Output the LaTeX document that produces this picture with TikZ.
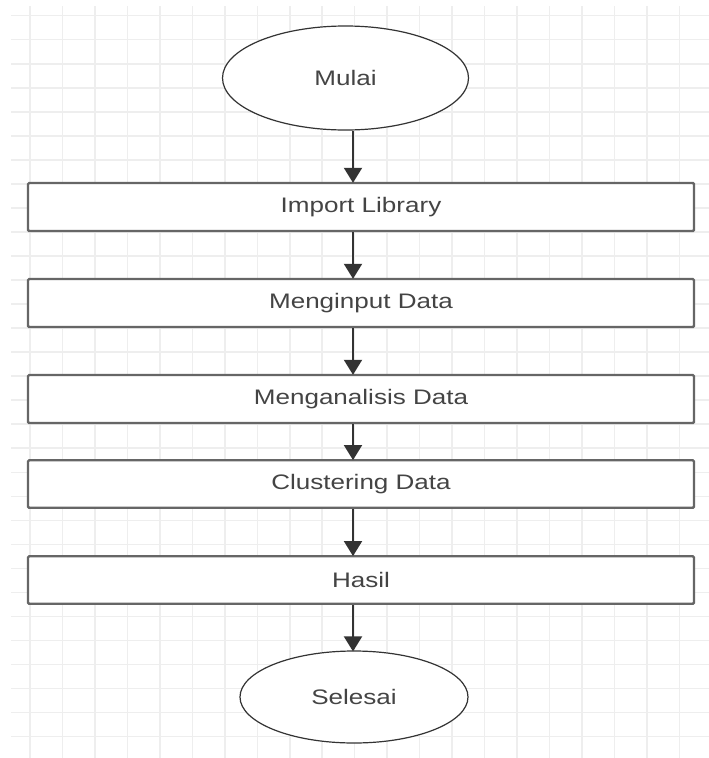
\documentclass[tikz,border=0pt]{standalone}
\usepackage{fontspec}
\setmainfont{Liberation Sans}
\usetikzlibrary{arrows.meta,shapes.geometric}
\definecolor{gridc}{HTML}{EEEEEE}
\definecolor{boxc}{HTML}{666666}
\definecolor{ellc}{HTML}{333333}
\definecolor{txtc}{HTML}{444444}
\definecolor{arrc}{HTML}{333333}
\newcommand{\lbl}[1]{\scalebox{1.24}[1]{#1}}
\tikzset{
  gridline/.style={draw=gridc,line width=1.5pt},
  procbox/.style={rectangle,draw=boxc,line width=2.4pt,fill=white,rounded corners=1.2pt,
    minimum width=666pt,minimum height=48pt,inner sep=0pt,text=txtc,
    font=\fontsize{21}{25}\selectfont},
  term/.style={ellipse,draw=ellc,line width=1.2pt,fill=white,inner sep=0pt,text=txtc,
    font=\fontsize{21}{25}\selectfont},
  arr/.style={draw=arrc,line width=2pt,-{Triangle[width=18pt,length=15pt]},shorten >=-1pt}
}
\begin{document}
\begin{tikzpicture}[x=1pt,y=-1pt]
\useasboundingbox (0,0) rectangle (709,758);
\fill[white] (0,0) rectangle (709,758);
% grid
\foreach \k in {0,...,20}{
  \draw[gridline] ({30+32.47*\k},6) -- ({30+32.47*\k},758);
}
\foreach \k in {0,...,30}{
  \draw[gridline] (11,{15.7+24.03*\k}) -- (709,{15.7+24.03*\k});
}
% nodes
\node[term,minimum width=246pt,minimum height=104pt] (mulai) at (345.5,78) {\lbl{Mulai}};
\node[procbox] (b1) at (361,207) {\lbl{Import Library}};
\node[procbox] (b2) at (361,303) {\lbl{Menginput Data}};
\node[procbox] (b3) at (361,399) {\lbl{Menganalisis Data}};
\node[procbox,minimum height=47.5pt] (b4) at (361,484) {\lbl{Clustering Data}};
\node[procbox,minimum height=47.5pt] (b5) at (361,580) {\lbl{Hasil}};
\node[term,minimum width=228pt,minimum height=92pt] (selesai) at (354,697) {\lbl{Selesai}};
% arrows
\coordinate (ax) at (353,0);
\draw[arr] (mulai.south -| ax) -- (b1.north -| ax);
\draw[arr] (b1.south -| ax) -- (b2.north -| ax);
\draw[arr] (b2.south -| ax) -- (b3.north -| ax);
\draw[arr] (b3.south -| ax) -- (b4.north -| ax);
\draw[arr] (b4.south -| ax) -- (b5.north -| ax);
\draw[arr] (b5.south -| ax) -- (selesai.north -| ax);
\end{tikzpicture}
\end{document}
